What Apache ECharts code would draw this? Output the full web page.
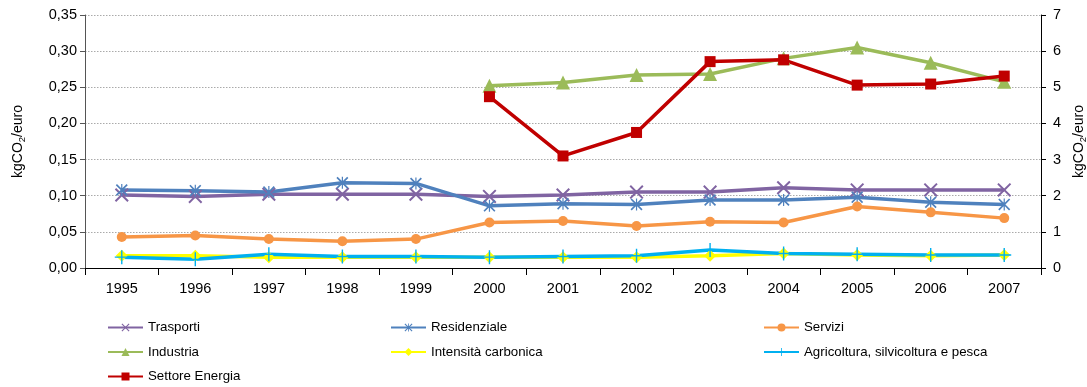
<!DOCTYPE html>
<html><head><meta charset="utf-8">
<script src="https://cdn.jsdelivr.net/npm/echarts@6/dist/echarts.min.js"></script>
<style>html,body{margin:0;padding:0;background:#fff}#c{width:1087px;height:387px}</style>
</head><body><div id="c"></div>
<script>
const years = ['1995','1996','1997','1998','1999','2000','2001','2002','2003','2004','2005','2006','2007'];
const trasporti = [0.101,0.099,0.102,0.102,0.102,0.099,0.101,0.105,0.105,0.111,0.108,0.108,0.108];
const residenziale = [0.108,0.107,0.105,0.118,0.117,0.086,0.089,0.088,0.094,0.094,0.098,0.091,0.088];
const servizi = [0.043,0.045,0.040,0.037,0.040,0.063,0.065,0.058,0.064,0.063,0.085,0.077,0.069];
const industria = [null,null,null,null,null,5.04,5.13,5.34,5.37,5.80,6.10,5.68,5.15];
const intensita = [0.017,0.017,0.015,0.015,0.015,0.015,0.015,0.015,0.017,0.020,0.018,0.017,0.018];
const agricoltura = [0.015,0.012,0.019,0.016,0.016,0.015,0.016,0.017,0.025,0.020,0.019,0.018,0.018];
const energia = [null,null,null,null,null,4.74,3.10,3.75,5.71,5.76,5.06,5.09,5.31];

const FONT = 'Liberation Sans, Arial, sans-serif';
const X_PATH = 'path://M0,1L1,0L5,4L9,0L10,1L6,5L10,9L9,10L5,6L1,10L0,9L4,5Z';
const AST_PATH = 'path://M0,1L1,0L5,4L9,0L10,1L6,5L10,9L9,10L5,6L1,10L0,9L4,5Z M4.5,0L5.5,0L5.5,10L4.5,10Z';
const PLUS_PATH = 'path://M4.5,0L5.5,0L5.5,4.5L10,4.5L10,5.5L5.5,5.5L5.5,10L4.5,10L4.5,5.5L0,5.5L0,4.5L4.5,4.5Z';

function mk(name, data, color, symbol, size, yi) {
  return {
    name, type: 'line', data, yAxisIndex: yi,
    symbol, symbolSize: size, showSymbol: true,
    lineStyle: {color, width: 3.5},
    itemStyle: {color, borderWidth: 0},
    connectNulls: false, animation: false
  };
}
const fmt = d => v => v.toFixed(d).replace('.', ',');
const nameRich = {
  a: {fontFamily: FONT, fontSize: 14, color: '#000'},
  b: {fontFamily: FONT, fontSize: 9.5, color: '#000', padding: [0, 0, -8, 0]}
};
const legText = {fontFamily: FONT, fontSize: 13.3, color: '#000'};
function leg(left, names) {
  return {left, top: 321, height: 90, orient: 'vertical', itemWidth: 35, itemHeight: 10, itemGap: 11.5, padding: 0,
    textStyle: legText, data: names, selectedMode: false};
}
const chart = echarts.init(document.getElementById('c'), null, {renderer: 'canvas'});
chart.setOption({
  backgroundColor: '#fff',
  animation: false,
  grid: {left: 85, right: 46, top: 15, bottom: 119, containLabel: false, outerBoundsMode: 'none'},
  legend: [
    leg(107, ['Trasporti','Industria','Settore Energia']),
    leg(390, ['Residenziale','Intensità carbonica']),
    leg(763, ['Servizi','Agricoltura, silvicoltura e pesca'])
  ],
  xAxis: {
    type: 'category', data: years, boundaryGap: true,
    axisLine: {lineStyle: {color: '#000', width: 1}},
    axisTick: {show: true, length: 7, lineStyle: {color: '#000'}},
    axisLabel: {fontFamily: FONT, fontSize: 14.5, color: '#000', margin: 13}
  },
  yAxis: [
    {
      type: 'value', min: 0, max: 0.35, interval: 0.05, position: 'left',
      name: '{a|kgCO}{b|2}{a|/euro}', nameLocation: 'middle', nameGap: 60, nameRotate: 90,
      nameTextStyle: {rich: nameRich},
      axisLine: {show: true, lineStyle: {color: '#555'}},
      axisTick: {show: true, length: 5, lineStyle: {color: '#555'}},
      axisLabel: {fontFamily: FONT, fontSize: 14.5, color: '#000', formatter: fmt(2), margin: 8},
      splitLine: {show: true, lineStyle: {type: [1.5, 1.5], color: '#aaa', width: 1}}
    },
    {
      type: 'value', min: 0, max: 7, interval: 1, position: 'right',
      name: '{a|kgCO}{b|2}{a|/euro}', nameLocation: 'middle', nameGap: 25, nameRotate: 90,
      nameTextStyle: {rich: nameRich},
      axisLine: {show: true, lineStyle: {color: '#000'}},
      axisTick: {show: true, length: 5, lineStyle: {color: '#000'}},
      axisLabel: {fontFamily: FONT, fontSize: 14.5, color: '#000', margin: 12},
      splitLine: {show: false}
    }
  ],
  series: [
    mk('Trasporti', trasporti, '#8064A2', X_PATH, 14, 0),
    mk('Residenziale', residenziale, '#4F81BD', AST_PATH, 12, 0),
    mk('Servizi', servizi, '#F79646', 'circle', 10, 0),
    mk('Industria', industria, '#9BBB59', 'triangle', 14, 1),
    mk('Intensità carbonica', intensita, '#FFFF00', 'diamond', 12, 0),
    mk('Agricoltura, silvicoltura e pesca', agricoltura, '#00B0F0', PLUS_PATH, 14, 0),
    mk('Settore Energia', energia, '#C00000', 'rect', 11, 1)
  ]
});
</script></body></html>
